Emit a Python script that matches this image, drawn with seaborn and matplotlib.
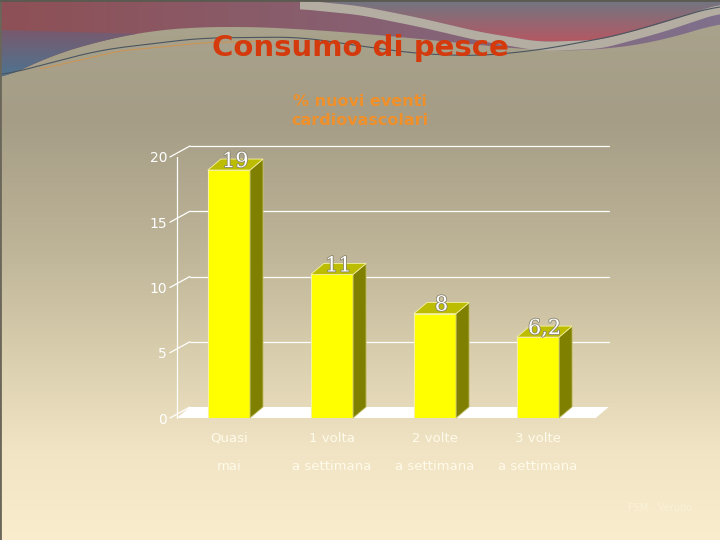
import numpy as np
import pandas as pd
import seaborn as sns
import matplotlib
matplotlib.use("Agg")
import matplotlib.pyplot as plt
from matplotlib.patches import Polygon
import matplotlib.patheffects as pe

# chart data
categories = ["Quasi\nmai", "1 volta\na settimana", "2 volte\na settimana", "3 volte\na settimana"]
values = [19, 11, 8, 6.2]
value_labels = ["19", "11", "8", "6,2"]
y_ticks = [0, 5, 10, 15, 20]

title = "Consumo di pesce"
subtitle = "% nuovi eventi\ncardiovascolari"
footer = "FSM - Veruno"

sns.set_theme(style="white")
plt.rcParams['font.family'] = ['DejaVu Sans']


def smooth(px, py, n=200):
    # smooth curve through a few control points (decoration only)
    xs = np.linspace(px[0], px[-1], n)
    ys = np.interp(xs, px, py)
    k = np.ones(15) / 15
    ys = np.convolve(np.pad(ys, 7, mode="edge"), k, mode="valid")
    return xs, ys


def grad_patch(ax, poly, colors, extent, vertical=True):
    # fill a polygon with a 2-stop linear gradient
    c0, c1 = np.array(colors[0]) / 255, np.array(colors[1]) / 255
    t = np.linspace(0, 1, 64)
    g = (1 - t)[:, None] * c0 + t[:, None] * c1
    img = g[:, None, :].repeat(2, axis=1) if vertical else g[None, :, :].repeat(2, axis=0)
    im = ax.imshow(img, extent=extent, aspect="auto", zorder=1, interpolation="bilinear")
    p = Polygon(poly, closed=True, transform=ax.transData, facecolor="none", edgecolor="none")
    ax.add_patch(p)
    im.set_clip_path(p)


fig = plt.figure(figsize=(7.2, 5.4), dpi=100)

# ---- slide background (pixel coordinates) ----
bg = fig.add_axes([0, 0, 1, 1])
bg.set_xlim(0, 720)
bg.set_ylim(540, 0)
bg.axis("off")
stops_y = [0, 120, 250, 350, 450, 540]
stops_c = np.array([[170, 163, 141], [165, 157, 134], [190, 180, 152],
                    [216, 205, 172], [240, 228, 196], [249, 237, 206]]) / 255
rows = np.arange(540)
grad = np.stack([np.interp(rows, stops_y, stops_c[:, k]) for k in range(3)], axis=1)
bg.imshow(np.repeat(grad[:, None, :], 2, axis=1), extent=(0, 720, 540, 0), aspect="auto",
          zorder=0, interpolation="bilinear")

# top swoosh: coloured band above the tan area
bx, by = smooth([0, 50, 100, 150, 200, 260, 330, 400, 470, 520, 580, 640, 700, 720],
                [80, 56, 41, 31, 27, 27, 31, 37, 44, 49, 51, 45, 30, 22])
poly_top = np.vstack([[0, 0], np.column_stack([bx, by]), [720, 0]])
grad_patch(bg, poly_top, [(142, 80, 86), (128, 112, 140)], (0, 720, 80, 0), vertical=False)
# blue tint in the lower left corner
grad_patch(bg, np.vstack([[0, 30], np.column_stack([bx[bx < 140], by[bx < 140]])]),
           [(120, 90, 110), (70, 120, 150)], (0, 140, 85, 30), vertical=True)

# light band and red region on the right
lx, ly = smooth([300, 360, 420, 480, 540, 600, 660, 720], [0, 6, 18, 32, 42, 40, 24, 4])
poly_band = np.vstack([np.column_stack([lx, ly]), np.column_stack([lx, ly + 9])[::-1]])
bg.add_patch(Polygon(poly_band, closed=True, facecolor="#b4aea2", edgecolor="none", zorder=2))
poly_red = np.vstack([[300, 0], np.column_stack([lx, ly]), [720, 0]])
grad_patch(bg, poly_red, [(112, 118, 130), (186, 86, 96)], (300, 720, 45, 0), vertical=True)

# thin swoosh lines
tx, ty = smooth([0, 100, 200, 300, 360, 420, 480, 540, 620, 720],
                [76, 50, 38, 37, 46, 54, 56, 50, 35, 5])
bg.plot(tx, ty, color="#4a5560", lw=0.8, zorder=3)
ox, oy = smooth([40, 120, 200, 260], [66, 48, 40, 38])
bg.plot(ox, oy + 3, color="#d89040", lw=0.7, alpha=0.8, zorder=3)
bg.plot([0, 0], [0, 540], color="#6a665a", lw=2, zorder=3)
bg.plot([0, 720], [0, 0], color="#5a5a50", lw=2, zorder=3)

# ---- titles ----
fig.text(0.5, 1 - 48 / 540, title, ha="center", va="center", fontsize=21,
         fontweight="bold", color="#d43a0c")
fig.text(360 / 720, 1 - 111 / 540, subtitle, ha="center", va="center", fontsize=11.5,
         fontweight="bold", color="#f0902a", linespacing=1.35)
fig.text(660 / 720, 1 - 508 / 540, footer, ha="center", va="center", fontsize=7,
         color="#fbf2d6")

# ---- chart ----
ax = fig.add_axes([176.9 / 720, 1 - 418 / 540, 418.8 / 720, 261 / 540])
ax.patch.set_alpha(0)
df = pd.DataFrame({"cat": categories, "val": values})
sns.barplot(data=df, x="cat", y="val", ax=ax, width=0.41, color="#ffff00",
            saturation=1, edgecolor="#f6f2a0", linewidth=0.8, zorder=3)
x_lo, x_hi = -0.505, 3.56
ax.set_xlim(x_lo, x_hi)
ax.set_ylim(0, 20)
ax.set_yticks(y_ticks)
ax.set_xlabel("")
ax.set_ylabel("")
for sp in ax.spines.values():
    sp.set_visible(False)
ax.tick_params(axis="y", length=0, pad=7, labelcolor="white", labelsize=10)
ax.tick_params(axis="x", length=0, pad=10, labelcolor="#fffaea", labelsize=9.5)
for lab in ax.get_xticklabels():
    lab.set_linespacing(2.5)

# depth of the 3d effect, in pixels -> data units
bbox = ax.get_position()
px_x = bbox.width * 720 / (x_hi - x_lo)
px_y = bbox.height * 540 / 20
dx = 13 / px_x
dy = 11 / px_y

# floor
ax.add_patch(Polygon([[x_lo, 0], [x_hi, 0], [x_hi + dx, dy], [x_lo + dx, dy]],
                     closed=True, facecolor="white", edgecolor="none", zorder=1, clip_on=False))
# back grid lines and diagonal ticks
for t in y_ticks[1:]:
    ax.plot([x_lo + dx, x_hi + dx], [t + dy, t + dy], color="white", lw=0.9, zorder=1, clip_on=False)
for t in y_ticks:
    ax.plot([x_lo - 7 / px_x, x_lo + dx], [t, t + dy], color="white", lw=0.9, zorder=2, clip_on=False)
ax.plot([x_lo, x_lo], [0, 20], color="white", lw=0.9, zorder=2, clip_on=False)

# side and top faces from the seaborn bars
for bar, lab in zip(ax.patches[:len(values)], value_labels):
    x0 = bar.get_x()
    x1 = x0 + bar.get_width()
    h = bar.get_height()
    ax.add_patch(Polygon([[x1, 0], [x1 + dx, dy], [x1 + dx, h + dy], [x1, h]], closed=True,
                         facecolor="#808000", edgecolor="#c8c470", lw=0.6, zorder=3, clip_on=False))
    ax.add_patch(Polygon([[x0, h], [x1, h], [x1 + dx, h + dy], [x0 + dx, h + dy]], closed=True,
                         facecolor="#bcbc00", edgecolor="#f6f2a0", lw=0.6, zorder=3, clip_on=False))
    ax.text((x0 + x1) / 2 + dx / 2, h + 0.65, lab, ha="center", va="center", fontsize=15,
            family="DejaVu Serif", color="white", zorder=5, clip_on=False,
            path_effects=[pe.withStroke(linewidth=1.2, foreground="#8a8670")])

fig.savefig("out.png", dpi=100)
